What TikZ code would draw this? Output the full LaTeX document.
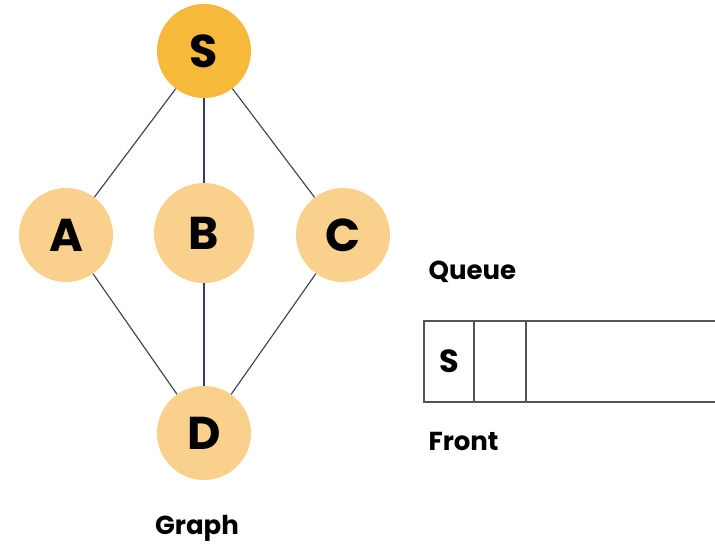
\documentclass[tikz,border=0pt]{standalone}
\usepackage{fontspec}
\setmainfont{Poppins}
\usetikzlibrary{positioning}
\definecolor{startfill}{RGB}{246,185,58}
\definecolor{nodefill}{RGB}{249,209,140}
\definecolor{edgecol}{RGB}{52,62,88}
\definecolor{boxcol}{RGB}{85,85,85}
\tikzset{
  vert/.style={circle,fill=nodefill,minimum size=94pt,inner sep=0pt,font=\fontsize{46}{46}\selectfont\bfseries},
  edge/.style={draw=edgecol,line width=1.1pt},
  cell/.style={draw=boxcol,line width=1.3pt,minimum width=50pt,minimum height=81pt,inner sep=0pt,outer sep=0pt,anchor=north west},
  lbl/.style={font=\fontsize{26}{26}\selectfont\bfseries}
}
\begin{document}
\begin{tikzpicture}[x=1pt,y=-1pt]
    \useasboundingbox (0,0) rectangle (715,546);
    % graph
    \node[vert,fill=startfill] (s) at (204,51) {S};
    \node[vert] (a) at (66,235) {A};
    \node[vert,minimum size=100pt] (b) at (204,233) {B};
    \node[vert] (c) at (343,235) {C};
    \node[vert] (d) at (204,433) {D};
    \draw[edge] (s)--(a);
    \draw[edge] (s)--(b);
    \draw[edge] (s)--(c);
    \draw[edge] (a)--(d);
    \draw[edge] (b)--(d);
    \draw[edge] (c)--(d);
    \node[lbl] (graph) at (197,528) {Graph};
    %% queue
    \node[lbl,anchor=west] (queue) at (425,272) {Queue};
    \node[cell,font=\fontsize{32}{32}\selectfont\bfseries] (q1) at (424,321) {S};
    \node[cell,minimum width=52pt] (q2) at (q1.north east) {};
    \coordinate (qtop) at (716,321);
    \coordinate (qbot) at (716,402);
    \draw[boxcol,line width=1.3pt] (qtop)--(q2.north east)--(q2.south east)--(qbot);
    \node[lbl,anchor=west] (front) at (425,441) {Front};
\end{tikzpicture}
\end{document}
